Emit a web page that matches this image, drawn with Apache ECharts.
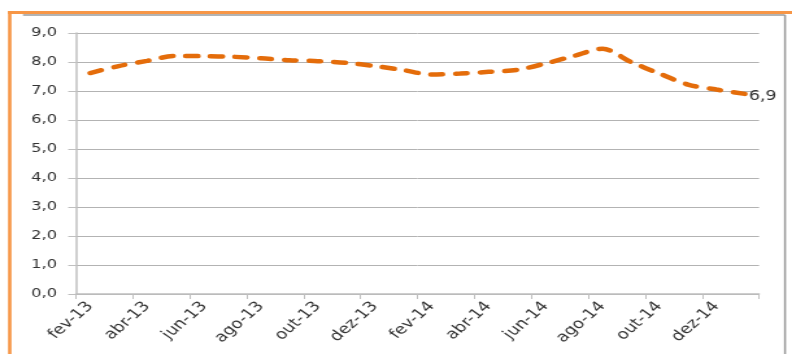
<!DOCTYPE html>
<html>
<head>
<meta charset="utf-8">
<script src="https://cdn.jsdelivr.net/npm/echarts@6/dist/echarts.min.js"></script>
<style>
  html, body { margin: 0; padding: 0; background: #fff; overflow: hidden; }
  #wrap { width: 792px; height: 354px; overflow: hidden; }
  /* chart is laid out narrower and widened horizontally */
  #chart { width: 610px; height: 354px; transform: scaleX(1.2984); transform-origin: 0 0; }
</style>
</head>
<body>
<div id="wrap"><div id="chart"></div></div>
<script>
// Monthly series, fev-13 .. jan-15
const months = [
  'fev-13', 'mar-13', 'abr-13', 'mai-13', 'jun-13', 'jul-13', 'ago-13', 'set-13',
  'out-13', 'nov-13', 'dez-13', 'jan-14', 'fev-14', 'mar-14', 'abr-14', 'mai-14',
  'jun-14', 'jul-14', 'ago-14', 'set-14', 'out-14', 'nov-14', 'dez-14', 'jan-15'
];
const values = [
  7.62, 7.86, 8.04, 8.21, 8.20, 8.18, 8.13, 8.06,
  8.03, 7.97, 7.86, 7.72, 7.57, 7.60, 7.66, 7.73,
  7.95, 8.21, 8.46, 8.00, 7.60, 7.22, 7.05, 6.9
];
const yTicks = [0, 1, 2, 3, 4, 5, 6, 7, 8, 9];

const fmt = v => v.toFixed(1).replace('.', ',');
const textColor = '#333333';
const font = 'DejaVu Sans';

const chart = echarts.init(document.getElementById('chart'), null, { renderer: 'canvas' });
chart.setOption({
  animation: false,
  backgroundColor: '#ffffff',
  grid: { left: 58.5, right: 25.4, top: 33, bottom: 60 },
  xAxis: {
    type: 'category',
    data: months,
    boundaryGap: true,
    axisLine: { lineStyle: { color: '#BFBFBF', width: 1.5 } },
    axisTick: { show: true, interval: 1, length: 5, lineStyle: { color: '#BFBFBF', width: 1 } },
    axisLabel: {
      interval: 1, rotate: 48, margin: 10,
      color: textColor, fontFamily: font, fontSize: 14
    },
    splitLine: { show: false }
  },
  yAxis: {
    type: 'value',
    min: yTicks[0], max: yTicks[yTicks.length - 1], interval: 1,
    axisLine: { show: true, lineStyle: { color: '#BFBFBF', width: 1.5 } },
    axisTick: { show: true, length: 6, lineStyle: { color: '#BFBFBF', width: 1 } },
    axisLabel: {
      margin: 14.5, formatter: fmt,
      color: textColor, fontFamily: font, fontSize: 12.5
    },
    splitLine: { show: true, lineStyle: { color: '#B3B3B3', width: 1 } }
  },
  series: [{
    type: 'line',
    data: values,
    smooth: 0.3,
    symbol: 'none',
    lineStyle: { color: '#E46C0A', width: 4.5, type: [9, 10], cap: 'round' },
    endLabel: {
      show: true, distance: 3,
      formatter: p => fmt(p.value),
      color: textColor, fontFamily: font, fontSize: 13.5,
      offset: [0, 3]
    }
  }],
  graphic: [
    { type: 'rect', silent: true, shape: { x: 6.2, y: 11, width: 604, height: 3 }, style: { fill: '#F79646' } },
    { type: 'rect', silent: true, shape: { x: 6.2, y: 11, width: 2.6, height: 343 }, style: { fill: '#F79646' } },
    { type: 'line', silent: true, shape: { x1: 17.7, y1: 15, x2: 604.6, y2: 15 }, style: { stroke: '#9A9A9A', lineWidth: 1.5 } },
    { type: 'line', silent: true, shape: { x1: 604.6, y1: 15, x2: 604.6, y2: 354 }, style: { stroke: '#9A9A9A', lineWidth: 1.5 } }
  ]
});
</script>
</body>
</html>
